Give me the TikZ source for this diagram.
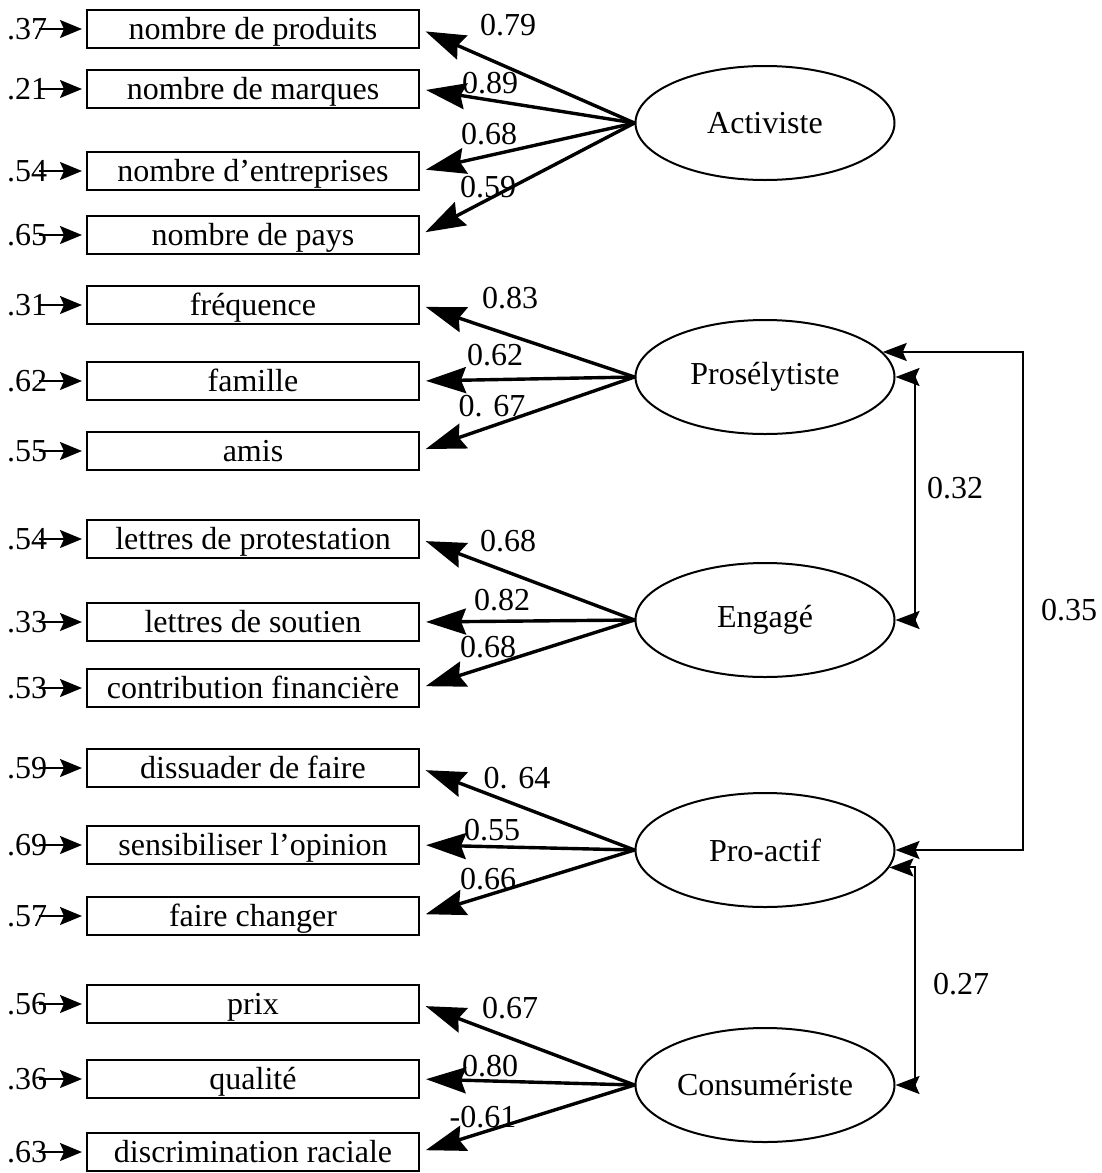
\documentclass[tikz,border=0pt]{standalone}
\usepackage{fontspec}
\setmainfont{Liberation Serif}
\usepackage{tikz}
\usetikzlibrary{arrows.meta,shapes.geometric,positioning,calc}

\begin{document}
\begin{tikzpicture}[x=0.5pt,y=-0.5pt,font=\fontsize{16}{19}\selectfont,
    indic/.style={draw,line width=1pt,minimum width=166pt,minimum height=19pt,inner sep=0pt,text height=12pt,text depth=2pt},
    facteur/.style={draw,ellipse,line width=1pt,minimum width=129.5pt,minimum height=57pt,inner sep=0pt},
    charge/.style={line width=1.7pt,shorten >=3pt,-{Stealth[length=20pt,width=13pt,inset=2.5pt]}},
    erreur/.style={line width=0.9pt,shorten >=2pt,-{Stealth[length=11pt,width=9pt,inset=2pt]}},
    correl/.style={line width=1pt,line join=miter,{Stealth[length=12pt,width=9pt,inset=2pt]}-{Stealth[length=12pt,width=9pt,inset=2pt]}}]
  \useasboundingbox (0,0) rectangle (1102,1173);
  \foreach \i/\y/\txt/\err in {1/29/nombre de produits/.37, 2/89/nombre de marques/.21,
      3/171/nombre d’entreprises/.54, 4/235/nombre de pays/.65, 5/305/fréquence/.31,
      6/381/famille/.62, 7/451/amis/.55, 8/539/lettres de protestation/.54,
      9/622/lettres de soutien/.33, 10/688/contribution financière/.53,
      11/768/dissuader de faire/.59, 12/845/sensibiliser l’opinion/.69,
      13/916/faire changer/.57, 14/1004/prix/.56, 15/1079/qualité/.36,
      16/1152/discrimination raciale/.63}{
    \node[indic] (b\i) at (253,\y) {\txt};
    \node[inner sep=0pt] (e\i) at (27,\y) {\err};
    \draw[erreur] ([xshift=-4pt]e\i.east) -- (b\i.west);
  }
  \foreach \f/\y/\nom in {act/123/Activiste, pro/377/Prosélytiste, eng/620/Engagé,
      pac/850/Pro-actif, con/1085/Consumériste}
    \node[facteur] (\f) at (765,\y) {\nom};
  \foreach \f/\i/\val/\lx/\ly in {act/1/0.79/508/25, act/2/0.89/490/83, act/3/0.68/489/134,
      act/4/0.59/488/187, pro/5/0.83/510/298, pro/6/0.62/495/355, pro/7/0. 67/492/406,
      eng/8/0.68/508/541, eng/9/0.82/502/600, eng/10/0.68/488/647,
      pac/11/0. 64/517/778, pac/12/0.55/492/830, pac/13/0.66/488/879,
      con/14/0.67/510/1008, con/15/0.80/490/1066, con/16/-0.61/483/1117}{
    \draw[charge] (\f.west) -- (b\i.east);
    \node (l\i) at (\lx,\ly) {\val};
  }
  \coordinate (r32) at (915,0);
  \coordinate (r35) at (1023,0);
  \draw[correl] (pro.east) -- (pro.east -| r32) -- (eng.east -| r32) -- (eng.east);
  \draw[correl] (pro.12) -- (pro.12 -| r35) -- (pac.east -| r35) -- (pac.east);
  \draw[correl] (pac.-8) -- (pac.-8 -| r32) -- (con.east -| r32) -- (con.east);
  \node (k32) at (955,488) {0.32};
  \node (k35) at (1069,610) {0.35};
  \node (k27) at (961,984) {0.27};
\end{tikzpicture}
\end{document}
